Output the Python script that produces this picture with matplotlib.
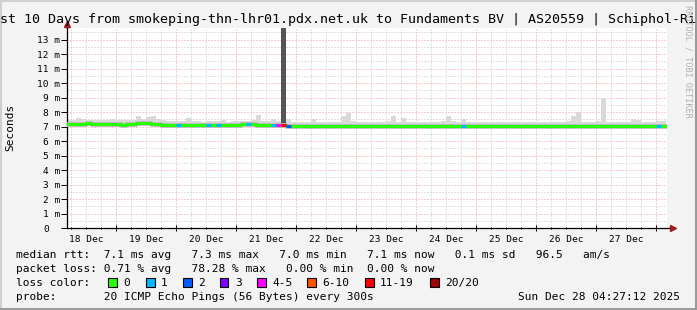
import numpy as np
import matplotlib
matplotlib.use('Agg')
import matplotlib.pyplot as plt
from matplotlib.patches import Rectangle
from matplotlib.lines import Line2D

plt.rcParams['font.family'] = ['DejaVu Sans Mono']
plt.rcParams['lines.scale_dashes'] = False

W, H = 697, 310
BG = '#f3f3f3'

title = 'Last 10 Days from smokeping-thn-lhr01.pdx.net.uk to Fundaments BV | AS20559 | Schiphol-Rijk'

# x is in days counted from 18 Dec 00:00, samples are 2 hour bins from 18 Dec 04:00
t0 = 4 / 24
step = 2 / 24
x_start, x_end = 4.45 / 24, 10 + 4.45 / 24

# median rtt per bin (ms), one line per day
median = [
    7.20, 7.21, 7.19, 7.20, 7.22, 7.21, 7.18, 7.17, 7.19, 7.20,
    7.15, 7.14, 7.17, 7.21, 7.23, 7.23, 7.22, 7.21, 7.17, 7.14, 7.13, 7.13,
    7.12, 7.12, 7.13, 7.12, 7.12, 7.13, 7.12, 7.13, 7.13, 7.14, 7.13, 7.14,
    7.14, 7.15, 7.15, 7.15, 7.14, 7.14, 7.13, 7.12, 7.11, 7.10, 7.04, 7.02,
    7.02, 7.03, 7.02, 7.03, 7.03, 7.02, 7.03, 7.04, 7.03, 7.04, 7.04, 7.03,
    7.04, 7.05, 7.04, 7.05, 7.05, 7.04, 7.05, 7.06, 7.05, 7.05, 7.04, 7.05,
    7.05, 7.05, 7.06, 7.05, 7.04, 7.05, 7.06, 7.05, 7.05, 7.04, 7.05, 7.05,
    7.05, 7.04, 7.05, 7.05, 7.06, 7.05, 7.05, 7.04, 7.05, 7.05, 7.06, 7.05,
    7.05, 7.06, 7.05, 7.05, 7.04, 7.05, 7.06, 7.05, 7.06, 7.05, 7.05, 7.04,
    7.05, 7.06, 7.05, 7.05, 7.06, 7.05, 7.05, 7.06, 7.05, 7.05, 7.04, 7.05,
    7.05, 7.06,
]

# top of the smoke per bin (ms)
smoke_top = [
    7.45, 7.48, 7.58, 7.55, 7.46, 7.44, 7.47, 7.42, 7.45, 7.50,
    7.42, 7.44, 7.46, 7.48, 7.70, 7.50, 7.66, 7.75, 7.52, 7.44, 7.40, 7.38,
    7.36, 7.38, 7.60, 7.40, 7.36, 7.34, 7.38, 7.35, 7.36, 7.42, 7.34, 7.36,
    7.38, 7.36, 7.40, 7.42, 7.80, 7.40, 7.38, 7.55, 7.35, 14.2, 7.55, 7.30,
    7.30, 7.28, 7.32, 7.55, 7.30, 7.28, 7.30, 7.32, 7.34, 7.70, 7.95, 7.36,
    7.30, 7.32, 7.34, 7.30, 7.28, 7.30, 7.36, 7.72, 7.34, 7.60, 7.32, 7.30,
    7.28, 7.30, 7.32, 7.34, 7.30, 7.36, 7.72, 7.40, 7.34, 7.50, 7.30, 7.28,
    7.30, 7.32, 7.28, 7.30, 7.34, 7.30, 7.28, 7.32, 7.30, 7.34, 7.30, 7.28,
    7.30, 7.34, 7.30, 7.32, 7.30, 7.28, 7.36, 7.72, 8.00, 7.34, 7.30, 7.32,
    7.36, 9.00, 7.34, 7.30, 7.32, 7.30, 7.34, 7.50, 7.48, 7.32, 7.30, 7.32,
    7.40, 7.36,
]

# lost pings (out of 20) per bin
loss = [
    0, 0, 0, 0, 0, 0, 0, 0, 0, 0,
    0, 0, 0, 0, 0, 0, 0, 0, 0, 0, 0, 0,
    1, 0, 0, 0, 0, 0, 1, 0, 1, 0, 0, 0,
    0, 0, 1, 0, 0, 0, 0, 1, 4, 16, 2, 0,
    0, 0, 0, 0, 0, 0, 0, 0, 0, 0, 0, 0,
    0, 0, 0, 0, 0, 0, 0, 0, 0, 0, 0, 0,
    0, 0, 0, 0, 0, 0, 0, 0, 0, 1, 0, 0,
    0, 0, 0, 0, 0, 0, 0, 0, 0, 0, 0, 0,
    0, 0, 0, 0, 0, 0, 0, 0, 0, 0, 0, 0,
    0, 0, 0, 0, 0, 0, 0, 0, 0, 0, 0, 0,
    1, 0,
]

day_labels = ['18 Dec', '19 Dec', '20 Dec', '21 Dec', '22 Dec',
              '23 Dec', '24 Dec', '25 Dec', '26 Dec', '27 Dec']
y_values = list(range(14))

loss_names = ['0', '1', '2', '3', '4-5', '6-10', '11-19', '20/20']
loss_limits = [0, 1, 2, 3, 5, 10, 19, 20]
loss_colors = ['#26ff00', '#00b8ff', '#0059ff', '#7e00ff',
               '#ff00ff', '#ff5500', '#ff0000', '#a10000']

row_rtt = 'median rtt:  7.1 ms avg   7.3 ms max   7.0 ms min   7.1 ms now   0.1 ms sd   96.5   am/s'
row_loss = 'packet loss: 0.71 % avg   78.28 % max   0.00 % min  0.00 % now'
row_color = 'loss color:'
row_probe = 'probe:       20 ICMP Echo Pings (56 Bytes) every 300s'
stamp = 'Sun Dec 28 04:27:12 2025'


def loss_color(n):
    for lim, c in zip(loss_limits, loss_colors):
        if n <= lim:
            return c
    return loss_colors[-1]


def fx(x):
    return x / W


def fy(y):
    return 1 - y / H


fig = plt.figure(figsize=(W / 100, H / 100), dpi=100, facecolor=BG)
ax = fig.add_axes([fx(67), fy(228), 600 / W, 200 / H])
ax.set_facecolor('white')
ax.set_xlim(x_start, x_end)
ax.set_ylim(0, 13.8)

# grid
ax.set_xticks(np.arange(1, 11))
ax.set_xticks(np.arange(0.25, x_end, 0.25), minor=True)
ax.set_yticks(y_values)
ax.set_yticks(np.arange(0.5, 14, 1.0), minor=True)
dots = (0, (0.72, 1.44))
ax.grid(which='major', color='#f29a9a', lw=0.72, ls=dots)
ax.grid(which='minor', color='#c4c4c4', lw=0.72, ls=dots)
ax.set_axisbelow(True)
ax.set_xticklabels([])
ax.set_yticklabels([])
ax.tick_params(axis='x', which='major', direction='inout', length=4, width=0.72)
ax.tick_params(axis='x', which='minor', direction='inout', length=2, width=0.72)
ax.tick_params(axis='y', which='major', direction='out', length=4, width=0.72)
ax.tick_params(axis='y', which='minor', length=0)
for s in ['top', 'right']:
    ax.spines[s].set_visible(False)
for s in ['left', 'bottom']:
    ax.spines[s].set_linewidth(0.9)

# data
med = np.array(median)
top = np.array(smoke_top)
edges = t0 + step * np.arange(len(med) + 1)
smoke_cols = ['#555555' if l >= 11 else '#d9d9d9' for l in loss]
ax.bar(edges[:-1], top - med, bottom=med, width=step, align='edge',
       color=smoke_cols, lw=0, zorder=2)
med_ext = np.append(med, med[-1])
ax.step(edges, med_ext, where='post', color='#b8b8b8', lw=3.4, zorder=3)
ax.step(edges, med_ext, where='post', color=loss_colors[0], lw=2.16, zorder=4)
for i, l in enumerate(loss):
    if l > 0:
        ax.hlines(med[i], edges[i], edges[i + 1], colors=loss_color(l),
                  lw=2.16, zorder=5)

# axis arrows
arrow_c = '#9b1c1c'
ax.add_line(Line2D([1, 1.01], [0, 0], transform=ax.transAxes, color='black',
                   lw=0.9, clip_on=False))
ax.plot(1.01, 0, marker='>', ms=4.5, color=arrow_c, transform=ax.transAxes,
        clip_on=False, zorder=6)
ax.add_line(Line2D([0, 0], [1, 1.02], transform=ax.transAxes, color='black',
                   lw=0.9, clip_on=False))
ax.plot(0, 1.02, marker='^', ms=4.5, color=arrow_c, transform=ax.transAxes,
        clip_on=False, zorder=6)

# tick labels
cw = 5.69
for v in y_values:
    s = '0' if v == 0 else f'{v} m'
    n = 3 if v == 0 else len(s)
    ax.text((60 - n * cw - 67) / 600, v, s, transform=ax.get_yaxis_transform(),
            ha='left', va='center_baseline', fontsize=6.8)
for k, lab in enumerate(day_labels):
    ax.text(k + 0.5, -(241.5 - 228) / 200, lab, transform=ax.get_xaxis_transform(),
            ha='center', va='baseline', fontsize=6.8)

# texts
fig.text(fx(348.5), fy(23.5), title, ha='center', va='baseline', fontsize=9.62)
fig.text(fx(10.7), fy(127), 'Seconds', rotation=90, ha='center', va='center',
         fontsize=8.04)
fig.text(fx(688), fy(5), 'RRDTOOL / TOBI OETIKER', rotation=270, ha='center',
         va='top', fontsize=6.1, color='#b0b0b0')

fs = 8.04
fig.text(fx(16), fy(258.5), row_rtt, ha='left', va='baseline', fontsize=fs)
fig.text(fx(16), fy(272), row_loss, ha='left', va='baseline', fontsize=fs)
fig.text(fx(16), fy(286), row_color, ha='left', va='baseline', fontsize=fs)
fig.text(fx(16), fy(299.5), row_probe, ha='left', va='baseline', fontsize=fs)
fig.text(fx(680), fy(299.5), stamp, ha='right', va='baseline', fontsize=fs)

box_x = [108, 146, 183, 220, 257, 307, 365, 430]
for bx, name, c in zip(box_x, loss_names, loss_colors):
    fig.add_artist(Rectangle((fx(bx), fy(286.5)), 8.5 / W, 8.5 / H,
                             transform=fig.transFigure, facecolor=c,
                             edgecolor='black', lw=0.8))
    fig.text(fx(bx + 15), fy(286), name, ha='left', va='baseline', fontsize=fs)

# 3d frame
for xs, ys, c in [([0, 697], [309, 309], '#d0d0d0'),
                  ([1, 1], [0, 310], '#d0d0d0'),
                  ([0, 697], [1, 1], '#9a9a9a'),
                  ([696, 696], [0, 310], '#9a9a9a')]:
    fig.add_artist(Line2D([fx(x) for x in xs], [y / H for y in ys],
                          transform=fig.transFigure, color=c, lw=1.5))

fig.savefig('out.png', dpi=100, facecolor=BG)
